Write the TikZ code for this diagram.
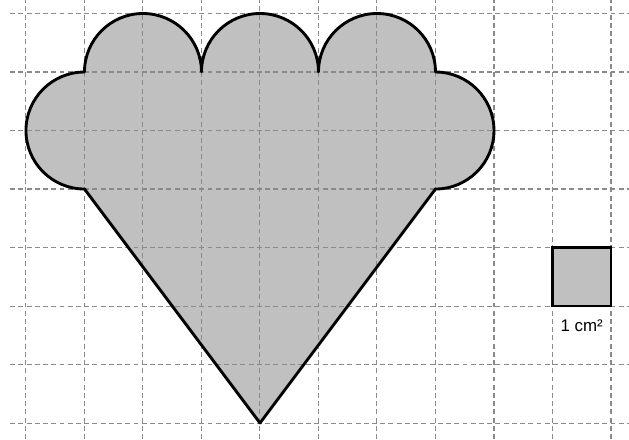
\documentclass[tikz,border=0pt]{standalone}
\usepackage{fontspec}
\setmainfont{Liberation Sans}
\usetikzlibrary{positioning}
\definecolor{shapegray}{HTML}{C0C0C0}
\definecolor{gridgray}{HTML}{8A8A8A}

\newcommand{\scooppath}{(4,0) -- (7,4)
  arc[start angle=-90, end angle=90, radius=1]
  arc[start angle=0, end angle=180, radius=1]
  arc[start angle=0, end angle=180, radius=1]
  arc[start angle=0, end angle=180, radius=1]
  arc[start angle=90, end angle=270, radius=1] -- cycle}

\begin{document}
\begin{tikzpicture}[
  gridline/.style={gridgray, line width=0.5pt, dash pattern=on 2.4pt off 1.6pt},
  outline/.style={black, line width=1.4pt, line join=round},
  every node/.style={font=\fontsize{8.2}{10}\selectfont}]
\useasboundingbox (-0.444,-0.274) rectangle (10.308,7.231);

%% Shape fill
\fill[shapegray] \scooppath;

%% Grid
\foreach \x in {0,...,10}
  \draw[gridline] (\x,-0.274) -- (\x,7.231);
\foreach \y in {0,...,7}
  \draw[gridline] (-0.27,\y) -- (10.308,\y);

%% Shape outline
\draw[outline] \scooppath;

%% Unit square
\node (unitsq) [draw=black, line width=1.4pt, fill=shapegray, inner sep=0pt,
  minimum size=1cm] at (9.5,2.5) {};
\node (unitlbl) [below=0.2cm of unitsq, inner sep=0pt] {1 cm²};

\end{tikzpicture}
\end{document}
